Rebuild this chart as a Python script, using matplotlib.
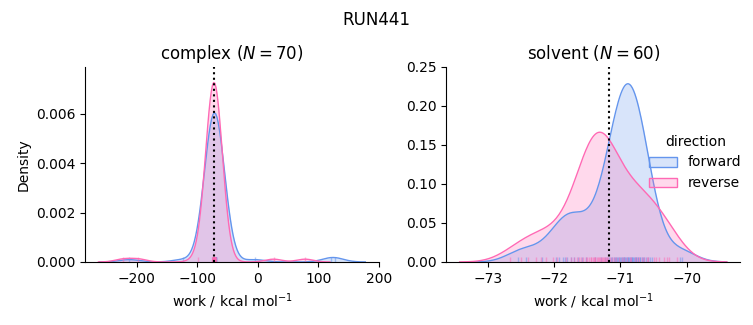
import numpy as np
import matplotlib
matplotlib.use("Agg")
import matplotlib.pyplot as plt
import seaborn as sns
from matplotlib.patches import Patch

# work values (kcal/mol)
complex_forward = [
    -212.0, -124.0, -5.0, 120.0, 128.0,
    -74.6, -74.0, -73.6, -73.3, -73.0, -72.8, -72.6, -72.4, -72.3, -72.2,
    -72.1, -72.0, -71.9, -71.8, -71.8, -71.7, -71.7, -71.6, -71.6, -71.5,
    -71.5, -71.4, -71.4, -71.3, -71.3, -71.2, -71.2, -71.1, -71.0, -70.9,
    -70.8, -70.7, -70.6, -70.5, -70.4, -70.2, -70.0, -69.8, -69.5, -69.1,
    -68.6, -71.55, -71.45, -71.35, -71.65, -71.25, -71.75, -71.15, -71.85, -71.05,
    -72.15, -70.95, -72.45, -70.65, -71.95, -70.85, -72.7, -70.3, -73.1, -69.9,
    -71.6, -71.4, -71.5, -71.3, -71.7,
]
complex_reverse = [
    -222.0, -197.0, -98.0, 26.0, 78.0,
    -75.4, -74.8, -74.4, -74.1, -73.8, -73.6, -73.4, -73.2, -73.1, -73.0,
    -72.9, -72.8, -72.7, -72.6, -72.6, -72.5, -72.5, -72.4, -72.4, -72.3,
    -72.3, -72.2, -72.2, -72.1, -72.1, -72.0, -72.0, -71.9, -71.8, -71.7,
    -71.6, -71.5, -71.4, -71.3, -71.2, -71.0, -70.8, -70.6, -70.3, -69.9,
    -69.4, -72.35, -72.25, -72.15, -72.45, -72.05, -72.55, -71.95, -72.65, -71.85,
    -72.95, -71.75, -73.25, -71.45, -72.75, -71.65, -73.5, -71.1, -73.9, -70.7,
    -72.4, -72.2, -72.3, -72.1, -72.5,
]
solvent_forward = [
    -72.55, -72.43, -72.19, -71.97, -71.92, -71.86, -71.80, -71.75, -71.70,
    -71.64, -71.58, -71.52, -71.83,
    -71.39, -71.29, -71.23, -71.20, -71.17, -71.14, -71.12, -71.10, -71.08, -71.06,
    -71.05, -71.03, -71.02, -71.00, -70.99, -70.98, -70.96, -70.95, -70.94, -70.93,
    -70.915, -70.905, -70.89, -70.88,
    -70.87, -70.855, -70.845, -70.83, -70.82, -70.81, -70.80, -70.78, -70.77, -70.76,
    -70.74, -70.73, -70.71, -70.70, -70.68, -70.66, -70.64, -70.62, -70.59, -70.56,
    -70.53, -70.10, -70.07,
]
solvent_reverse = [
    -72.67, -72.50, -72.40, -72.28, -72.20, -72.13, -72.02, -71.95,
    -71.82, -71.75, -71.70, -71.65, -71.60, -71.56, -71.52, -71.48, -71.45,
    -71.42, -71.39, -71.36, -71.33, -71.30, -71.28, -71.25, -71.22, -71.19, -71.16,
    -71.13, -71.10, -71.06, -71.02, -70.98, -70.94, -71.40, -71.34, -71.27, -71.50,
    -71.62, -71.20, -71.38, -71.31, -71.24, -71.44,
    -70.90, -70.84, -70.78, -70.72, -70.65, -70.58, -70.50, -70.42, -70.35, -70.26,
    -70.15, -70.85, -70.68, -70.46, -70.30, -70.60, -70.75,
]

# free energy estimates (dotted lines)
complex_dg = -71.7
solvent_dg = -71.17

phases = ["complex", "solvent"]
directions = ["forward", "reverse"]
colors = {"forward": "cornflowerblue", "reverse": "hotpink"}
n_labels = {"complex": 70, "solvent": 60}

data = {
    "complex": {"forward": complex_forward, "reverse": complex_reverse},
    "solvent": {"forward": solvent_forward, "reverse": solvent_reverse},
}
dg = {"complex": complex_dg, "solvent": solvent_dg}

# density is normalised over all work values
n_total = sum(len(v) for p in data.values() for v in p.values())


def kde(values, cut=3, gridsize=200):
    v = np.asarray(values, dtype=float)
    n = len(v)
    bw = v.std(ddof=1) * n ** (-1 / 5)
    grid = np.linspace(v.min() - cut * bw, v.max() + cut * bw, gridsize)
    dens = np.exp(-0.5 * ((grid[:, None] - v[None, :]) / bw) ** 2).sum(axis=1)
    dens /= n * bw * np.sqrt(2 * np.pi)
    return grid, dens * n / n_total


fig, axes = plt.subplots(1, 2, figsize=(7.53, 3.25), dpi=100)
fig.subplots_adjust(left=0.113, right=0.983, bottom=0.194, top=0.794, wspace=0.229)

for ax, phase in zip(axes, phases):
    for d in directions:
        vals = data[phase][d]
        x, y = kde(vals)
        ax.fill_between(x, 0, y, color=colors[d], alpha=0.25, lw=0)
        ax.plot(x, y, color=colors[d], lw=1)
        sns.rugplot(x=vals, ax=ax, color=colors[d], height=0.025, alpha=0.5, lw=1)
    ax.axvline(dg[phase], color="black", ls=":", lw=1.5)
    ax.set_title(f"{phase} ($N={n_labels[phase]}$)")
    ax.set_xlabel("work / kcal mol$^{-1}$")
    ax.spines["top"].set_visible(False)
    ax.spines["right"].set_visible(False)

axes[0].set_ylabel("Density")
axes[0].set_ylim(0, 0.0079)
axes[0].set_yticks([0, 0.002, 0.004, 0.006])
axes[0].set_xticks([-200, -100, 0, 100, 200])
axes[1].set_ylim(0, 0.25)
axes[1].set_xticks([-73, -72, -71, -70])

handles = [Patch(facecolor=matplotlib.colors.to_rgba(colors[d], 0.25),
                 edgecolor=colors[d]) for d in directions]
axes[1].legend(handles, directions, title="direction", loc="center right",
               bbox_to_anchor=(1.047, 0.51), frameon=False)

fig.suptitle("RUN441", y=0.965, fontsize=12)

fig.savefig("out.png", dpi=100)
